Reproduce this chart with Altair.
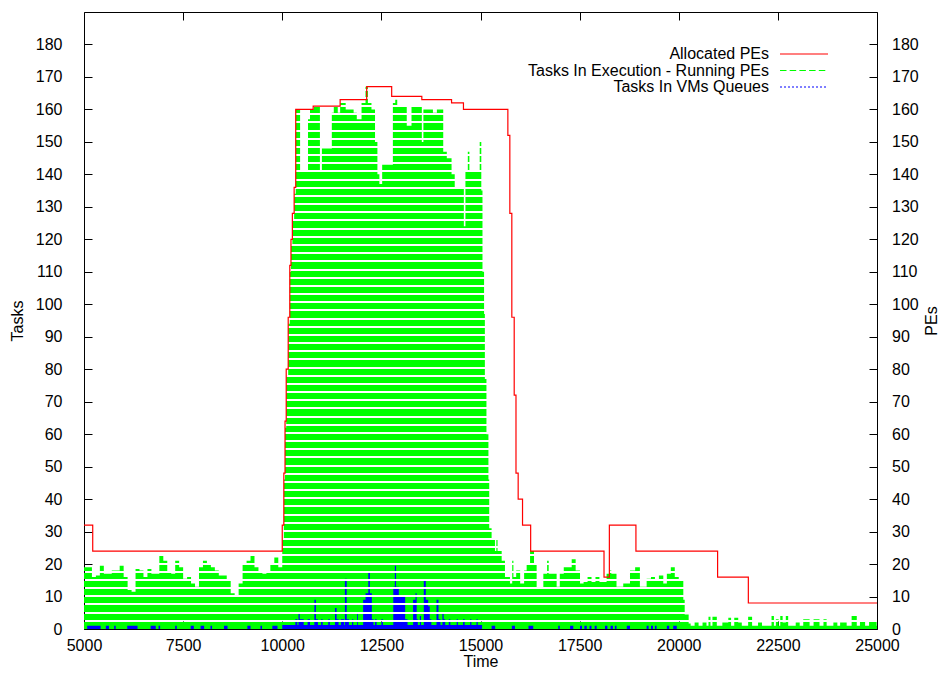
import altair as alt
import pandas as pd

W, H = 793, 617
Y_MAX = 190
FONT = "Liberation Sans"
FS = 16

x_ticks = [5000, 7500, 10000, 12500, 15000, 17500, 20000, 22500, 25000]
y_ticks = [0, 10, 20, 30, 40, 50, 60, 70, 80, 90, 100, 110, 120, 130, 140, 150, 160, 170, 180]

legend_labels = ["Allocated PEs", "Tasks In Execution - Running PEs", "Tasks In VMs Queues"]

# Tasks in execution (envelope of the dense green trace), step-after
green_time = [
    5000, 5100, 5200, 5300, 5400, 5500, 5600, 5700, 5800, 5900,
    6000, 6100, 6200, 6300, 6400, 6500, 6600, 6700, 6800, 6900,
    7000, 7100, 7200, 7300, 7400, 7500, 7600, 7700, 7800, 7900,
    8000, 8100, 8200, 8300, 8400, 8500, 8600, 8700, 8800, 8900,
    9000, 9100, 9200, 9300, 9400, 9500, 9600, 9700, 9800, 9900,
    10000, 10040, 10070, 10100, 10150, 10190, 10220, 10255, 10300, 10340,
    10450, 10650, 10700, 10800, 10950, 11000, 11250, 11300, 11400, 11460,
    11600, 11800, 11880, 12000, 12100, 12160, 12250, 12340, 12400, 12450,
    12520, 12790, 12850, 12900, 13140, 13260, 13520, 13560, 13800, 13900,
    14060, 14150, 14270, 14350, 14580, 14620, 14680, 14720, 14980, 15020,
    15050, 15090, 15110, 15150, 15200, 15220, 15280, 15365, 15400, 15430,
    15534, 15617, 15743, 15800, 15830, 15900, 16000, 16100, 16164, 16250,
    16350, 16416, 16585, 16680, 16720, 16920, 17000, 17100, 17300, 17400,
    17510, 17600, 17700, 17800, 17900, 18000, 18180, 18250, 18300, 18430,
    18600, 18770, 18900, 19020, 19190, 19300, 19400, 19500, 19610, 19700,
    19800, 19900, 20000, 20115, 20150, 20250, 20300, 20400, 20500, 20600,
    20700, 20750, 20800, 20850, 20960, 21100, 21250, 21320, 21400, 21500,
    21590, 21750, 21850, 22000, 22100, 22340, 22400, 22450, 22520, 22560,
    22620, 22700, 22760, 22950, 23050, 23140, 23300, 23400, 23550, 23650,
    23730, 23900, 24000, 24070, 24235, 24360, 24490, 24570, 24700, 24800,
    24990, 25000,
]
green_tasks = [
    19, 19, 16, 16.5, 19.5, 17, 17, 18, 18, 19.5,
    16, 12, 11.5, 18.5, 18, 16, 18.5, 17, 17, 22.5,
    21, 17.5, 17, 21, 19, 15.5, 16, 14, 13, 19,
    21, 20, 19, 18, 16.5, 16.5, 15, 11, 10, 14,
    20, 21, 23, 19, 17.5, 17, 17.5, 20, 22, 19,
    28, 46, 62, 78, 94, 110, 118, 126, 134, 160,
    141, 157, 160, 161, 141, 148, 159, 161, 159, 162,
    160, 159, 157, 162, 167, 162, 160, 150, 140, 137,
    143, 162, 163, 161, 155, 161, 150, 160, 159, 160,
    147, 145, 140, 136, 124, 141, 147, 141, 150, 135,
    110, 97, 77, 60, 46, 31, 28, 24, 28, 24,
    21, 16, 14, 21, 16, 18, 14, 18, 20, 24,
    20, 12.5, 17, 21, 17, 13, 17, 19, 21.5, 18,
    14, 14.5, 16, 14.5, 16, 14.5, 17, 18, 17, 13,
    14, 18, 19, 13, 15.5, 16, 15, 16.5, 14, 17,
    19, 16, 15, 9, 4.5, 1.7, 1, 2, 1, 2,
    1, 3.8, 1, 3.8, 1, 2, 3.5, 1, 3.5, 2,
    1, 3.8, 1, 2, 1, 4, 1, 3, 1, 4,
    2, 4, 1, 2, 1, 3, 1, 3, 1, 3,
    1, 2, 1, 2, 1, 4, 1, 2.5, 1, 2.5,
    1, 1,
]

# Tasks in VMs queues, step-after
blue_time = [
    5000, 5080, 5420, 5550, 5630, 5760, 5800, 6090, 6350, 6680,
    6810, 6880, 6920, 7300, 7340, 7690, 7770, 7940, 8030, 8190,
    8230, 8530, 8620, 9120, 9200, 9450, 9490, 9750, 9880,
    10000, 10330, 10380, 10410, 10440, 10540, 10640, 10700, 10810, 10850,
    10900, 10980, 11020, 11160, 11200, 11330, 11370, 11420, 11480, 11560,
    11580, 11625, 11680, 11760, 11790, 11890, 11910, 12040, 12100, 12170,
    12210, 12260, 12300, 12340, 12380, 12500, 12540, 12800, 12840, 12870,
    12940, 13100, 13160, 13300, 13360, 13390, 13420, 13470, 13500, 13570,
    13620, 13680, 13720, 13760, 13890, 13940, 13990, 14040, 14070, 14110,
    14200, 14240, 14400, 14430, 14560, 14600, 14740, 14770, 14900, 14930,
    15040, 15280, 15370, 15790, 15870, 16210, 16330, 16960, 17000, 17260,
    17340, 17510, 17560, 17620, 17680, 17750, 17800, 17880, 17930, 18140,
    18200, 18280, 18340, 18390, 18430, 18690, 18770, 19190, 19240, 19300,
    19350, 19400, 19440, 19700, 19760, 19860, 19950, 25000,
]
blue_tasks = [
    0, 1, 0, 1, 0, 1, 0, 1, 0, 1,
    0, 1, 0, 1, 0, 1, 0, 1, 0, 1,
    0, 1, 0, 1, 0, 1, 0, 1, 0,
    1.2, 3, 1.2, 5, 3, 1.2, 3, 1.2, 9, 3,
    1.2, 3, 1.2, 3, 1.2, 6.5, 3, 1.2, 3, 1.2,
    15.5, 3, 1.2, 3, 1.2, 5, 1.2, 9, 11, 17.5,
    11, 3, 1.2, 3, 1.2, 3, 1.2, 13, 19.5, 13,
    10, 3, 1.2, 9, 11, 3, 1.2, 4, 1.2, 15,
    9, 7, 3, 1.2, 9, 3, 1.2, 4.8, 3, 1.2,
    3, 1.2, 3, 1.2, 3, 1.2, 3, 1.2, 3, 1.2,
    0, 1, 0, 1, 0, 1, 0, 1, 0, 1,
    0, 1, 0, 1, 0, 1, 0, 1, 0, 1,
    0, 1, 0, 1, 0, 1, 0, 1, 0, 1,
    0, 1, 0, 1, 0, 1, 0, 0,
]

# Allocated PEs, step-after
red_time = [5000, 5220, 10000, 10040, 10070, 10100, 10150, 10190, 10220, 10255,
            10300, 10340, 10780, 11460, 12130, 12760, 13520, 14270, 14570, 15690,
            15740, 15790, 15850, 15895, 15950, 16060, 16265, 18115, 18250, 18920,
            20980, 21755, 25000]
red_pes = [32, 24, 32, 48, 64, 80, 96, 112, 120, 128,
           136, 160, 161, 163, 167, 164, 163, 162, 160, 152,
           128, 96, 72, 48, 40, 32, 24, 16, 32, 24,
           16, 8, 8]

green_df = pd.DataFrame({"time": green_time, "tasks": green_tasks})
blue_df = pd.DataFrame({"time": blue_time, "tasks": blue_tasks})
red_df = pd.DataFrame({"time": red_time, "pes": red_pes})

P = 8.17  # stripe period in px (the dashed-line texture)
CLEAR = "rgba(255,255,255,0)"


def stripe_fill(color, vmax):
    h = vmax / Y_MAX * H
    stops = [{"offset": 0, "color": color}]
    k = 1
    while k * P - 1 < h:
        a = (k * P - 1) / h
        b = min((k * P + 1) / h, 1)
        stops += [{"offset": a, "color": color}, {"offset": a, "color": CLEAR},
                  {"offset": b, "color": CLEAR}, {"offset": b, "color": color}]
        k += 1
    stops.append({"offset": 1, "color": color})
    return {"gradient": "linear", "x1": 0, "y1": 1, "x2": 0, "y2": 0, "stops": stops}


xscale = alt.Scale(domain=[5000, 25000], nice=False)
yscale = alt.Scale(domain=[0, Y_MAX], nice=False, zero=True)

common_axis = dict(domain=False, grid=False, tickSize=8, offset=-8, tickColor="black",
                   tickWidth=1, labelFont=FONT, labelFontSize=FS, labelColor="black",
                   titleFont=FONT, titleFontSize=FS, titleFontWeight="normal",
                   titleColor="black", labelFlush=False, labelOverlap=False)

x_bottom = alt.Axis(values=x_ticks, format="d", title="Time", orient="bottom",
                    labelPadding=8.5, titleX=W / 2, titleY=40.5, titleBaseline="middle",
                    **common_axis)
x_top = alt.Axis(values=x_ticks, orient="top", labels=False, title=None, **common_axis)
y_left = alt.Axis(values=y_ticks, format="d", title="Tasks", orient="left",
                  labelPadding=22, titleX=-75, titleY=H / 2, titleAngle=270,
                  titleBaseline="middle", **common_axis)
y_right = alt.Axis(values=y_ticks, format="d", title="PEs", orient="right",
                   labelPadding=14.5, titleX=62, titleY=H / 2, titleAngle=270,
                   titleBaseline="middle", **common_axis)

green = alt.Chart(green_df).mark_area(
    interpolate="step-after", fill=stripe_fill("#00ff00", max(green_tasks)), strokeWidth=0
).encode(
    x=alt.X("time:Q", scale=xscale, axis=x_bottom),
    y=alt.Y("tasks:Q", scale=yscale, axis=y_left),
)

blue = alt.Chart(blue_df).mark_area(
    interpolate="step-after", fill=stripe_fill("#0000ff", max(blue_tasks)), strokeWidth=0
).encode(
    x=alt.X("time:Q", scale=xscale, axis=None),
    y=alt.Y("tasks:Q", scale=yscale, axis=None),
)

red = alt.Chart(red_df).mark_line(
    interpolate="step-after", color="#ff0000", strokeWidth=1.2
).encode(
    x=alt.X("time:Q", scale=xscale, axis=x_top),
    y=alt.Y("pes:Q", scale=yscale, axis=y_right),
)

# Legend (gnuplot style: label on the left, sample on the right)
styles = [
    dict(color="#ff0000", strokeDash=[1, 0]),
    dict(color="#00ff00", strokeDash=[6.5, 3.2]),
    dict(color="#0000ff", strokeDash=[2, 2]),
]
legend_layers = []
for i, (lab, st) in enumerate(zip(legend_labels, styles)):
    ypx = 42 + 16.5 * i
    ldf = pd.DataFrame({"label": [lab]})
    legend_layers.append(
        alt.Chart(ldf).mark_text(align="right", baseline="middle", font=FONT,
                                 fontSize=FS, color="black").encode(
            text="label:N", x=alt.value(685), y=alt.value(ypx))
    )
    legend_layers.append(
        alt.Chart(ldf).mark_rule(color=st["color"], strokeWidth=1.2,
                                 strokeDash=st["strokeDash"]).encode(
            x=alt.value(696), x2=alt.value(744), y=alt.value(ypx))
    )

chart = alt.layer(green, blue, red, *legend_layers).resolve_axis(
    x="independent", y="independent"
).properties(
    width=W, height=H,
    padding={"left": 76, "top": 4, "right": 65, "bottom": 41},
    autosize=alt.AutoSizeParams(type="none"),
    background="white",
).configure_view(stroke="black", strokeWidth=1)

chart.save("out.html", embed_options={"renderer": "svg", "actions": False})
